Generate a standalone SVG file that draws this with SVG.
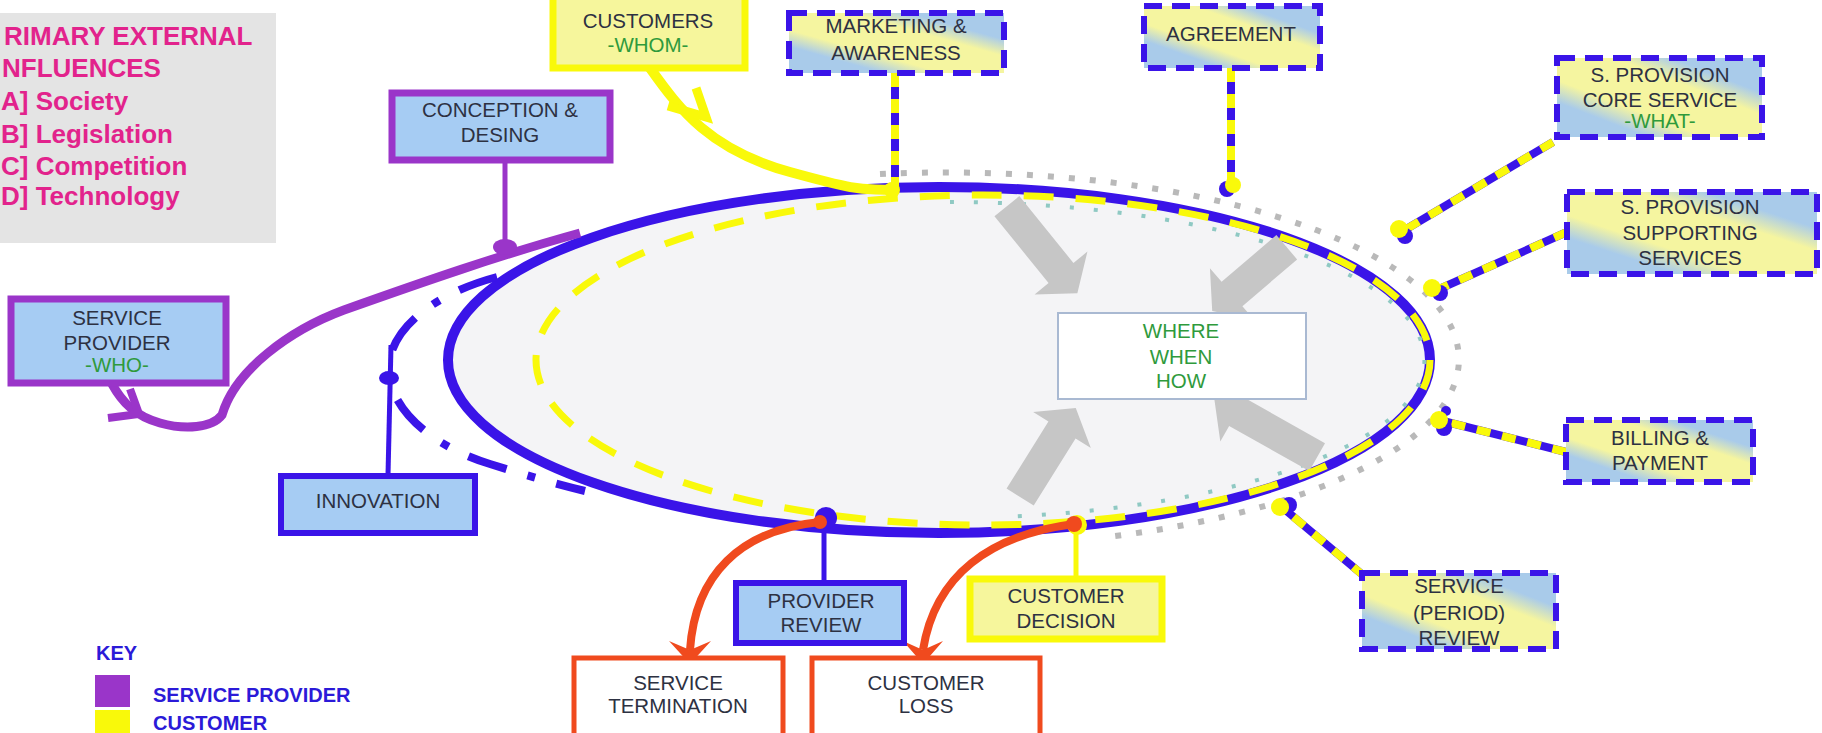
<svg xmlns="http://www.w3.org/2000/svg" width="1822" height="733" viewBox="0 0 1822 733">
<defs>
<style>
.t{font-family:"Liberation Sans",Arial,sans-serif;font-size:20.5px;fill:#2d3142;text-anchor:middle}
.g{fill:#2f9a3c}
.inf{font-family:"Liberation Sans",Arial,sans-serif;font-size:26px;font-weight:bold;fill:#e2238c}
.key{font-family:"Liberation Sans",Arial,sans-serif;font-size:20px;font-weight:bold;fill:#2b1ad8}
.bx-blue{fill:#a6ccf3;stroke:#3a14e8;stroke-width:6}
.bx-purple{fill:#a6ccf3;stroke:#9a35c9;stroke-width:7}
.bx-yellow{fill:#f6f69c;stroke:#f9f90a;stroke-width:7}
.bx-red{fill:#ffffff;stroke:#f04a1e;stroke-width:5}
.bx-mix{fill:url(#mix);stroke:#3a14e8;stroke-width:6;stroke-dasharray:18 10}
.cb{stroke:#3a14e8;stroke-width:8;fill:none}
.cy{stroke:#f9f90a;stroke-width:8;fill:none;stroke-dasharray:14 12}
.red{stroke:#f04a1e;stroke-width:8;fill:none}
.garrow{fill:#c6c6c6}
</style>
<linearGradient id="mix" x1="0" y1="1" x2="1" y2="0">
<stop offset="0" stop-color="#a9cbea"/>
<stop offset="0.22" stop-color="#a9cbea"/>
<stop offset="0.36" stop-color="#f5f5a0"/>
<stop offset="0.64" stop-color="#f5f5a0"/>
<stop offset="0.78" stop-color="#a9cbea"/>
<stop offset="1" stop-color="#a9cbea"/>
</linearGradient>
</defs>
<rect width="1822" height="733" fill="#ffffff"/>

<g id="influences">
<rect x="-5" y="13" width="281" height="230" fill="#e4e4e4"/>
<text class="inf" x="4" y="45">RIMARY EXTERNAL</text>
<text class="inf" x="2" y="77">NFLUENCES</text>
<text class="inf" x="1" y="110">A] Society</text>
<text class="inf" x="1" y="143">B] Legislation</text>
<text class="inf" x="1" y="175">C] Competition</text>
<text class="inf" x="1" y="205">D] Technology</text>
</g>

<g id="cycle">
<ellipse cx="939" cy="360" rx="491" ry="173" fill="#f4f4f6" stroke="#3a14e8" stroke-width="10"/>
<path d="M 880 174 A 513 187 0 0 1 1115 536" fill="none" stroke="#b9b9b9" stroke-width="6" stroke-dasharray="6 15"/>
<path d="M 950 202 A 478 158 0 0 1 1000 517" fill="none" stroke="#8fc9c3" stroke-width="4" stroke-dasharray="4 20"/>
<path class="garrow" transform="translate(1061,273) rotate(51)" d="M -86 -16 L 0 -16 L 0 -34 L 26 0 L 0 34 L 0 16 L -86 16 Z"/>
<path class="garrow" transform="translate(1232,294) rotate(139.5)" d="M -72 -16 L 0 -16 L 0 -34 L 26 0 L 0 34 L 0 16 L -72 16 Z"/>
<path class="garrow" transform="translate(1062,430) rotate(-58)" d="M -79 -16 L 0 -16 L 0 -34 L 26 0 L 0 34 L 0 16 L -79 16 Z"/>
<path class="garrow" transform="translate(1237,412) rotate(209.4)" d="M -92 -16 L 0 -16 L 0 -34 L 26 0 L 0 34 L 0 16 L -92 16 Z"/>
<ellipse cx="983" cy="360" rx="447" ry="165" fill="none" stroke="#f9f90a" stroke-width="7" stroke-dasharray="30 22"/>
<path d="M 497 277 C 440 292, 392 325, 389 365 C 386 405, 428 445, 490 464 C 522 474, 552 483, 585 491" fill="none" stroke="#3a14e8" stroke-width="8" stroke-dasharray="40 22 8 22"/>
</g>

<g id="connectors">
<path d="M 112 384 C 122 402, 135 416, 160 423 C 185 430, 212 428, 222 415 C 235 370, 290 330, 344 310 C 420 283, 500 255, 580 233" fill="none" stroke="#9a35c9" stroke-width="9"/>
<path d="M 108 418 L 139 414 L 130 389" fill="none" stroke="#9a35c9" stroke-width="8" stroke-linejoin="miter"/>
<line x1="505" y1="160" x2="505" y2="245" stroke="#9a35c9" stroke-width="5"/>
<ellipse cx="505" cy="247" rx="12" ry="8" fill="#9a35c9"/>
<path d="M 650 68 C 680 110, 710 150, 790 172 S 860 188, 892 190" fill="none" stroke="#f9f90a" stroke-width="10"/>
<path d="M 668 106 L 706 117 L 696 88" fill="none" stroke="#f9f90a" stroke-width="9"/>
<circle cx="892" cy="190" r="8" fill="#f9f90a"/>
<line class="cb" x1="895" y1="73" x2="895" y2="186"/>
<line class="cy" x1="895" y1="73" x2="895" y2="186"/>
<line class="cb" x1="1231" y1="68" x2="1231" y2="183"/>
<line class="cy" x1="1231" y1="68" x2="1231" y2="183"/>
<circle cx="1227" cy="189" r="8" fill="#3a14e8"/>
<circle cx="1233" cy="185" r="8" fill="#f9f90a"/>
<line class="cb" x1="1553" y1="142" x2="1403" y2="231"/>
<line class="cy" x1="1553" y1="142" x2="1403" y2="231"/>
<circle cx="1405" cy="236" r="8" fill="#3a14e8"/>
<circle cx="1399" cy="229" r="9" fill="#f9f90a"/>
<line class="cb" x1="1567" y1="232" x2="1437" y2="290"/>
<line class="cy" x1="1567" y1="232" x2="1437" y2="290"/>
<circle cx="1440" cy="293" r="8" fill="#3a14e8"/>
<circle cx="1432" cy="288" r="9" fill="#f9f90a"/>
<line class="cb" x1="1566" y1="452" x2="1443" y2="421"/>
<line class="cy" x1="1566" y1="452" x2="1443" y2="421"/>
<circle cx="1446" cy="411" r="5" fill="#3a14e8"/>
<circle cx="1444" cy="428" r="8" fill="#3a14e8"/>
<circle cx="1439" cy="420" r="9" fill="#f9f90a"/>
<line class="cb" x1="1364" y1="576" x2="1283" y2="508"/>
<line class="cy" x1="1364" y1="576" x2="1283" y2="508"/>
<circle cx="1289" cy="505" r="8" fill="#3a14e8"/>
<circle cx="1280" cy="507" r="9" fill="#f9f90a"/>
<line x1="388" y1="475" x2="391" y2="345" stroke="#3a14e8" stroke-width="5"/>
<ellipse cx="389" cy="378" rx="10" ry="7" fill="#3a14e8"/>
<line x1="824" y1="582" x2="824" y2="520" stroke="#3a14e8" stroke-width="5"/>
<circle cx="826" cy="518" r="11" fill="#3a14e8"/>
<line x1="1076" y1="577" x2="1076" y2="527" stroke="#f9f90a" stroke-width="5"/>
<circle cx="1077" cy="525" r="10" fill="#f9f90a"/>
<path class="red" d="M 820 522 C 740 530, 695 575, 690 650"/>
<polygon points="690,664 669,641 690,650 711,641" fill="#f04a1e"/>
<circle cx="820" cy="522" r="7" fill="#f04a1e"/>
<path class="red" d="M 1074 524 C 990 535, 935 575, 923 650"/>
<polygon points="923,664 903,641 923,650 943,641" fill="#f04a1e"/>
<circle cx="1074" cy="524" r="8" fill="#f04a1e"/>
</g>

<g id="node-where">
<rect x="1058" y="313" width="248" height="86" fill="#ffffff" stroke="#a9b9d2" stroke-width="2"/>
<text class="t g" x="1181" y="338">WHERE</text>
<text class="t g" x="1181" y="364">WHEN</text>
<text class="t g" x="1181" y="388">HOW</text>
</g>

<g id="node-customers">
<rect class="bx-yellow" x="553" y="-6" width="192" height="74"/>
<text class="t" x="648" y="28">CUSTOMERS</text>
<text class="t g" x="648" y="52">-WHOM-</text>
</g>

<g id="node-marketing">
<rect class="bx-mix" x="789" y="13" width="215" height="60"/>
<text class="t" x="896" y="33">MARKETING &amp;</text>
<text class="t" x="896" y="60">AWARENESS</text>
</g>

<g id="node-agreement">
<rect class="bx-mix" x="1144" y="6" width="176" height="62"/>
<text class="t" x="1231" y="41">AGREEMENT</text>
</g>

<g id="node-core">
<rect class="bx-mix" x="1557" y="58" width="205" height="79"/>
<text class="t" x="1660" y="82">S. PROVISION</text>
<text class="t" x="1660" y="107">CORE SERVICE</text>
<text class="t g" x="1660" y="128">-WHAT-</text>
</g>

<g id="node-supporting">
<rect class="bx-mix" x="1567" y="192" width="250" height="82"/>
<text class="t" x="1690" y="214">S. PROVISION</text>
<text class="t" x="1690" y="240">SUPPORTING</text>
<text class="t" x="1690" y="265">SERVICES</text>
</g>

<g id="node-billing">
<rect class="bx-mix" x="1566" y="420" width="187" height="62"/>
<text class="t" x="1660" y="445">BILLING &amp;</text>
<text class="t" x="1660" y="470">PAYMENT</text>
</g>

<g id="node-period-review">
<rect class="bx-mix" x="1362" y="573" width="194" height="76"/>
<text class="t" x="1459" y="593">SERVICE</text>
<text class="t" x="1459" y="620">(PERIOD)</text>
<text class="t" x="1459" y="645">REVIEW</text>
</g>

<g id="node-conception">
<rect class="bx-purple" x="392" y="93" width="218" height="67"/>
<text class="t" x="500" y="117">CONCEPTION &amp;</text>
<text class="t" x="500" y="142">DESING</text>
</g>

<g id="node-service-provider">
<rect class="bx-purple" x="11" y="299" width="215" height="84"/>
<text class="t" x="117" y="325">SERVICE</text>
<text class="t" x="117" y="350">PROVIDER</text>
<text class="t g" x="117" y="372">-WHO-</text>
</g>

<g id="node-innovation">
<rect class="bx-blue" x="281" y="476" width="194" height="57"/>
<text class="t" x="378" y="508">INNOVATION</text>
</g>

<g id="node-provider-review">
<rect class="bx-blue" x="736" y="583" width="168" height="60"/>
<text class="t" x="821" y="608">PROVIDER</text>
<text class="t" x="821" y="632">REVIEW</text>
</g>

<g id="node-customer-decision">
<rect class="bx-yellow" x="970" y="579" width="192" height="60"/>
<text class="t" x="1066" y="603">CUSTOMER</text>
<text class="t" x="1066" y="628">DECISION</text>
</g>

<g id="node-termination">
<rect class="bx-red" x="574" y="658" width="209" height="78"/>
<text class="t" x="678" y="690">SERVICE</text>
<text class="t" x="678" y="713">TERMINATION</text>
</g>

<g id="node-loss">
<rect class="bx-red" x="812" y="658" width="228" height="78"/>
<text class="t" x="926" y="690">CUSTOMER</text>
<text class="t" x="926" y="713">LOSS</text>
</g>

<g id="key">
<text class="key" x="96" y="660">KEY</text>
<rect x="95" y="675" width="35" height="32" fill="#9a35c9"/>
<text class="key" x="153" y="702">SERVICE PROVIDER</text>
<rect x="95" y="710" width="35" height="30" fill="#f9f90a"/>
<text class="key" x="153" y="730">CUSTOMER</text>
</g>
</svg>
